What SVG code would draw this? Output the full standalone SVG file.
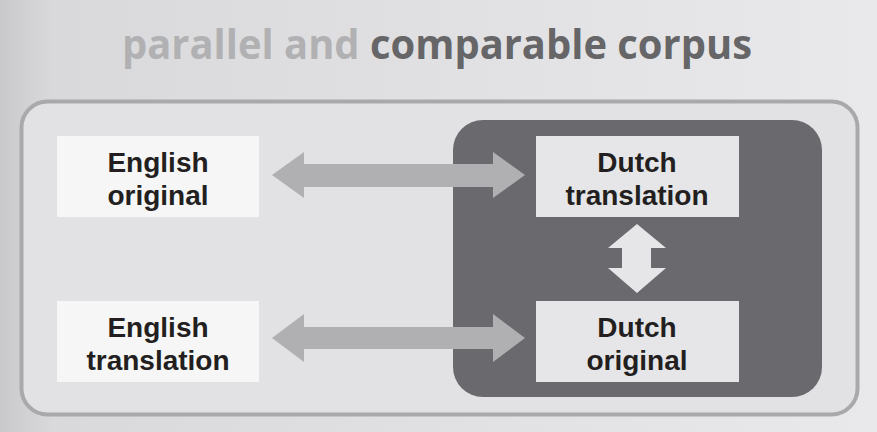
<svg xmlns="http://www.w3.org/2000/svg" width="877" height="432" viewBox="0 0 877 432">
<defs>
<linearGradient id="bg" x1="0" y1="0" x2="1" y2="0">
<stop offset="0" stop-color="#c9c9cb"/>
<stop offset="0.06" stop-color="#d9d9db"/>
<stop offset="1" stop-color="#e9e9eb"/>
</linearGradient>
<style>
.t{font-family:"Liberation Sans",Arial,sans-serif;font-weight:700;fill:#231f20;font-size:28px;text-anchor:middle}
.lb{fill:#f6f6f6}
.db{fill:#e6e6e8}
.arr{fill:#b0b0b3}
</style>
</defs>
<rect width="877" height="432" fill="url(#bg)"/>
<text x="437" y="59" font-family="Open Sans, DejaVu Sans, sans-serif" font-weight="700" font-size="42" textLength="630" lengthAdjust="spacingAndGlyphs" text-anchor="middle"><tspan fill="#b1b1b3">parallel and </tspan><tspan fill="#666668">comparable corpus</tspan></text>
<rect id="frame" x="21.5" y="101.5" width="836" height="313" rx="26" fill="#e2e2e4" stroke="#a9a9ab" stroke-width="4"/>
<g id="dutch-group"><rect x="453" y="120" width="369" height="277" rx="30" fill="#6a6a6e"/></g>
<g id="connectors">
<path class="arr" d="M272,175 L304,152 L304,164 L493,164 L493,152 L525,175 L493,198 L493,187 L304,187 L304,198 Z"/>
<path class="arr" d="M272,338 L304,314 L304,327 L493,327 L493,314 L525,338 L493,362 L493,349 L304,349 L304,362 Z"/>
<path class="db" d="M637,224 L666,248 L651,248 L651,268 L666,268 L637,293 L608,268 L622,268 L622,248 L608,248 Z"/>
</g>
<g id="english-original"><rect class="lb" x="57" y="136" width="202" height="81"/><text class="t" x="158" y="172">English</text><text class="t" x="158" y="205">original</text></g>
<g id="english-translation"><rect class="lb" x="57" y="301" width="202" height="81"/><text class="t" x="158" y="337">English</text><text class="t" x="158" y="370">translation</text></g>
<g id="dutch-translation"><rect class="db" x="536" y="136" width="203" height="81"/><text class="t" x="637" y="172">Dutch</text><text class="t" x="637" y="205">translation</text></g>
<g id="dutch-original"><rect class="db" x="536" y="301" width="203" height="81"/><text class="t" x="637" y="337">Dutch</text><text class="t" x="637" y="370">original</text></g>
</svg>
